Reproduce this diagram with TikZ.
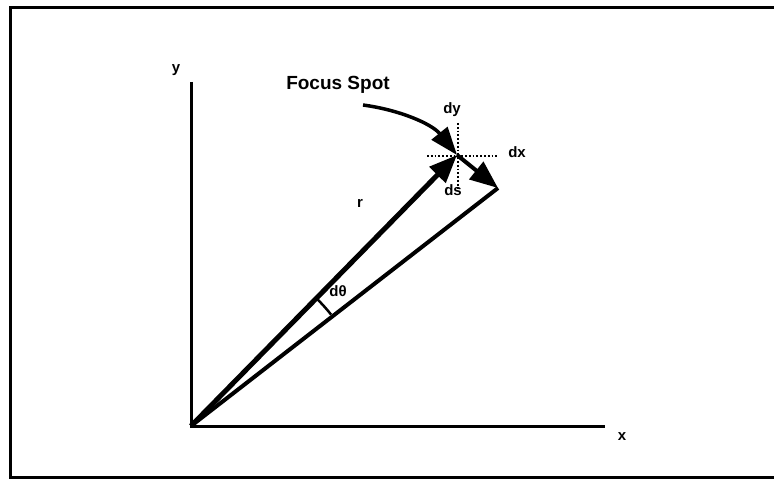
\documentclass[tikz,border=0pt]{standalone}
\usepackage{fontspec}
\setmainfont{Liberation Sans}
\usetikzlibrary{arrows.meta}

\tikzset{
  bigtip/.style={-{Triangle[length=28pt,width=22pt]}},
  vec/.style={line width=5pt, bigtip},
  axis/.style={line width=3pt},
  cross/.style={dotted, line width=1.8pt},
  lbl/.style={font=\fontsize{15}{17}\selectfont\bfseries, inner sep=0pt},
}

\begin{document}
\begin{tikzpicture}[x=1pt, y=1pt]
    \useasboundingbox (0,0) rectangle (774,480);
    % outer frame, open at the right
    \draw[line width=3pt] (790,3) -- (10,3) -- (10,472) -- (790,472);

    % axes
    \coordinate (O) at (191,54);
    \coordinate (ytop) at (191,398);
    \coordinate (xend) at (605,54);
    \draw[axis] (ytop) -- (O) -- (xend);
    \node[lbl] (ylab) at (176,410) {y};
    \node[lbl] (xlab) at (622,43) {x};

    % focus spot and the moved point
    \coordinate (F) at (457,325);
    \coordinate (E) at (498,292);

    % dotted cross at the spot
    \coordinate (hl) at (427,324);
    \coordinate (hr) at (497,324);
    \coordinate (vt) at (458,357);
    \coordinate (vb) at (458,290);
    \draw[cross] (hl) -- (hr);
    \draw[cross] (vt) -- (vb);

    % vectors
    \draw[line width=4pt] (O) -- (E);
    \draw[vec] (O) -- (F);
    \draw[line width=4pt, bigtip] (F) -- (E);

    % angle between the two rays
    \draw[line width=2.5pt] (O) ++(38.5:179) arc[start angle=38.5, end angle=45.6, radius=179];

    % labels
    \node[lbl] (rlab) at (360,277) {r};
    \node[lbl] (dth) at (338,189) {dθ};
    \node[lbl] (dy) at (452,370) {dy};
    \node[lbl] (dx) at (517,328) {dx};
    \node[lbl] (ds) at (453,290) {ds};

    % pointer to the spot
    \node[lbl, font=\fontsize{19}{21}\selectfont\bfseries] (focus) at (338,395) {Focus Spot};
    \coordinate (C) at (363,375);
    \draw[line width=3.5pt, -{Triangle[length=28pt,width=20pt]}]
        (C) .. controls (400,370) and (432,356) .. (F);
\end{tikzpicture}
\end{document}
